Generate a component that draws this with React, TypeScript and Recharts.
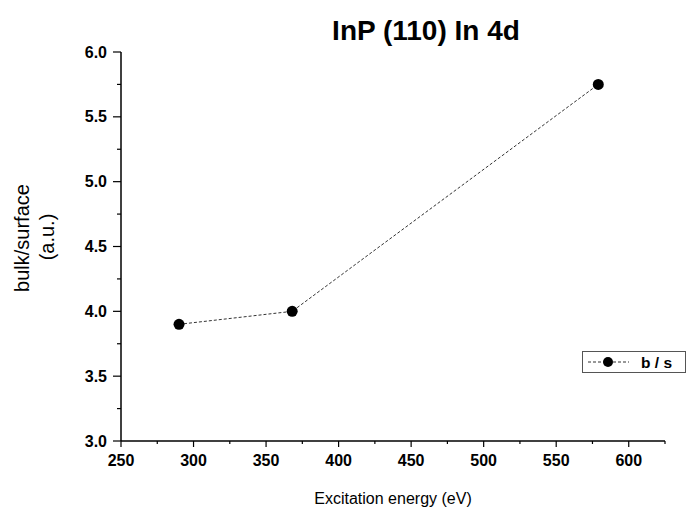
import React from 'react';
import { LineChart, Line, XAxis, YAxis, Label } from 'recharts';

// measured points (excitation energy in eV, bulk/surface ratio)
const energies = [290, 368, 579];
const ratios = [3.9, 4.0, 5.75];

const xTicks = [250, 275, 300, 325, 350, 375, 400, 425, 450, 475, 500, 525, 550, 575, 600, 625];
const yTicks = [3.0, 3.25, 3.5, 3.75, 4.0, 4.25, 4.5, 4.75, 5.0, 5.25, 5.5, 5.75, 6.0];

const data = energies.map((e, i) => ({ energy: e, bs: ratios[i] }));

const FONT = 'Liberation Sans, Arial, sans-serif';

const XTick = (props: any) => {
  const { x, y, payload } = props;
  const major = payload.value % 50 === 0;
  return (
    <g>
      <line x1={x} y1={y} x2={x} y2={y + (major ? 6 : 3)} stroke="#000" strokeWidth={1.2} />
      {major && (
        <text x={x} y={y + 25} textAnchor="middle" fontFamily={FONT} fontWeight="bold" fontSize={16} fill="#000">
          {payload.value}
        </text>
      )}
    </g>
  );
};

const YTick = (props: any) => {
  const { x, y, payload } = props;
  const major = Math.abs((payload.value * 2) % 1) < 0.001;
  return (
    <g>
      <line x1={x} y1={y} x2={x - (major ? 8 : 4)} y2={y} stroke="#000" strokeWidth={1.2} />
      {major && (
        <text x={x - 14} y={y + 5.5} textAnchor="end" fontFamily={FONT} fontWeight="bold" fontSize={16} fill="#000">
          {payload.value.toFixed(1)}
        </text>
      )}
    </g>
  );
};

const YLabel = () => (
  <g fontFamily={FONT} fontSize={20} fill="#000">
    <text x={0} y={0} textAnchor="middle" transform="translate(29, 238) rotate(-90)">
      bulk/surface
    </text>
    <text x={0} y={0} textAnchor="middle" transform="translate(54, 237) rotate(-90)">
      (a.u.)
    </text>
  </g>
);

export default function App() {
  return (
    <div style={{ position: 'absolute', left: 0, top: 0, width: 686, height: 512, background: '#fff' }}>
      <LineChart width={686} height={512} data={data} margin={{ top: 52, right: 21, left: 0, bottom: 0 }}>
        <text x={426} y={40} textAnchor="middle" fontFamily={FONT} fontWeight="bold" fontSize={28} fill="#000">
          InP (110) In 4d
        </text>
        <XAxis
          dataKey="energy"
          type="number"
          domain={[250, 625]}
          ticks={xTicks}
          interval={0}
          height={71}
          tickSize={0}
          tickMargin={0}
          tickLine={false}
          tick={<XTick />}
          axisLine={{ stroke: '#000', strokeWidth: 1.5 }}
        >
          <Label
            value="Excitation energy (eV)"
            position="insideBottom"
            offset={8}
            style={{ fontFamily: FONT, fontSize: 16, fill: '#000' }}
          />
        </XAxis>
        <YAxis
          type="number"
          domain={[3, 6]}
          ticks={yTicks}
          interval={0}
          width={121}
          tickSize={0}
          tickMargin={0}
          tickLine={false}
          tick={<YTick />}
          axisLine={{ stroke: '#000', strokeWidth: 1.5 }}
          label={<YLabel />}
        />
        <Line
          dataKey="bs"
          name="b / s"
          stroke="#333"
          strokeWidth={1}
          strokeDasharray="3 2"
          dot={{ r: 5.5, fill: '#000', stroke: '#000', strokeWidth: 0 }}
          isAnimationActive={false}
        />
        {/* legend box, drawn by hand at its place on the right */}
        <g transform="translate(582, 351)">
          <rect x={0.5} y={0.5} width={103} height={21} fill="#fff" stroke="#555" strokeWidth={1} />
          <line x1={6} y1={11} x2={47} y2={11} stroke="#333" strokeWidth={1} strokeDasharray="3 2" />
          <circle cx={26} cy={11} r={5} fill="#000" />
          <text x={59} y={16.5} fontFamily={FONT} fontWeight="bold" fontSize={15.5} fill="#000">
            b / s
          </text>
        </g>
      </LineChart>
    </div>
  );
}
